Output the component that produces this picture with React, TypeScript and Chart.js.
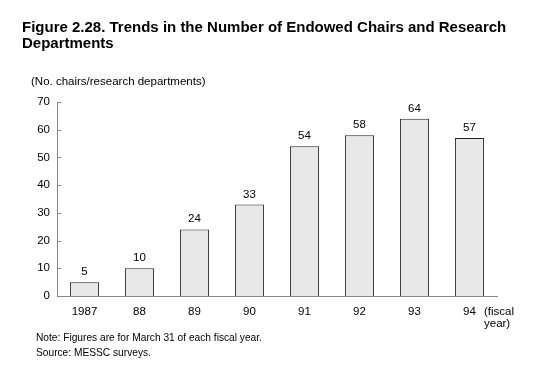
import React, { useEffect, useRef } from "react";
import { Chart, registerables } from "chart.js";

Chart.register(...registerables);

const categories = ["1987", "88", "89", "90", "91", "92", "93", "94"];
const values = [5, 10, 24, 33, 54, 58, 64, 57];
const yTicks = [0, 10, 20, 30, 40, 50, 60, 70];
const titleLines = [
  "Figure 2.28. Trends in the Number of Endowed Chairs and Research",
  "Departments",
];
const unitLabel = "(No. chairs/research departments)";
const xUnitLines = ["(fiscal", "year)"];
const notes = [
  "Note: Figures are for March 31 of each fiscal year.",
  "Source: MESSC surveys.",
];

const FONT = "'Liberation Sans', Arial, Helvetica, sans-serif";

const textPlugin = {
  id: "textPlugin",
  afterDraw(chart: any) {
    const ctx = chart.ctx;
    const area = chart.chartArea;
    const yScale = chart.scales.y;
    ctx.save();
    // inner tick marks
    ctx.strokeStyle = "#888";
    ctx.lineWidth = 1;
    yTicks.forEach((t) => {
      const py = Math.round(yScale.getPixelForValue(t)) + 0.5;
      ctx.beginPath();
      ctx.moveTo(area.left, py);
      ctx.lineTo(area.left + 4, py);
      ctx.stroke();
    });
    // value labels
    ctx.fillStyle = "#000";
    ctx.font = `11.5px ${FONT}`;
    ctx.textAlign = "center";
    ctx.textBaseline = "alphabetic";
    const meta = chart.getDatasetMeta(0);
    meta.data.forEach((bar: any, i: number) => {
      ctx.fillText(String(values[i]), bar.x, bar.y - 7);
    });
    // title
    ctx.textAlign = "left";
    ctx.font = `bold 15px ${FONT}`;
    titleLines.forEach((l, i) => ctx.fillText(l, 22, 32 + i * 16));
    // unit label
    ctx.font = `11.5px ${FONT}`;
    ctx.fillText(unitLabel, 31, 85);
    // x unit
    xUnitLines.forEach((l, i) => ctx.fillText(l, area.right - 13, 315 + i * 11.5));
    // notes
    ctx.font = `10.2px ${FONT}`;
    notes.forEach((l, i) => ctx.fillText(l, 36, 341 + i * 14.5));
    ctx.restore();
  },
};

export default function App() {
  const ref = useRef<HTMLCanvasElement>(null);
  useEffect(() => {
    if (!ref.current) return;
    const chart = new Chart(ref.current, {
      type: "bar",
      data: {
        labels: categories,
        datasets: [
          {
            data: values,
            backgroundColor: "#e8e8e8",
            borderColor: "#222",
            borderWidth: 1,
            borderSkipped: "bottom",
            barPercentage: 0.53,
            categoryPercentage: 1,
          },
        ],
      },
      options: {
        responsive: false,
        animation: false,
        devicePixelRatio: 1,
        layout: { padding: { left: 17, right: 46, top: 102, bottom: 0 } },
        plugins: { legend: { display: false }, tooltip: { enabled: false }, title: { display: false } },
        scales: {
          x: {
            grid: { display: false, drawTicks: false },
            border: { display: true, color: "#888", width: 1 },
            ticks: { color: "#000", font: { family: FONT, size: 11.5 }, padding: 9, maxRotation: 0 },
            afterFit: (s: any) => { s.height = 82; },
          },
          y: {
            min: 0,
            max: 70,
            grid: { display: false, drawTicks: false },
            border: { display: true, color: "#888", width: 1 },
            ticks: { stepSize: 10, color: "#000", font: { family: FONT, size: 11.5 }, padding: 7 },
            afterFit: (s: any) => { s.width = 40; },
          },
        },
      },
      plugins: [textPlugin],
    });
    return () => chart.destroy();
  }, []);
  return (
    <div style={{ position: "fixed", left: 0, top: 0, width: 543, height: 378, background: "#fff" }}>
      <canvas ref={ref} width={543} height={378} style={{ width: 543, height: 378, display: "block" }} />
    </div>
  );
}
